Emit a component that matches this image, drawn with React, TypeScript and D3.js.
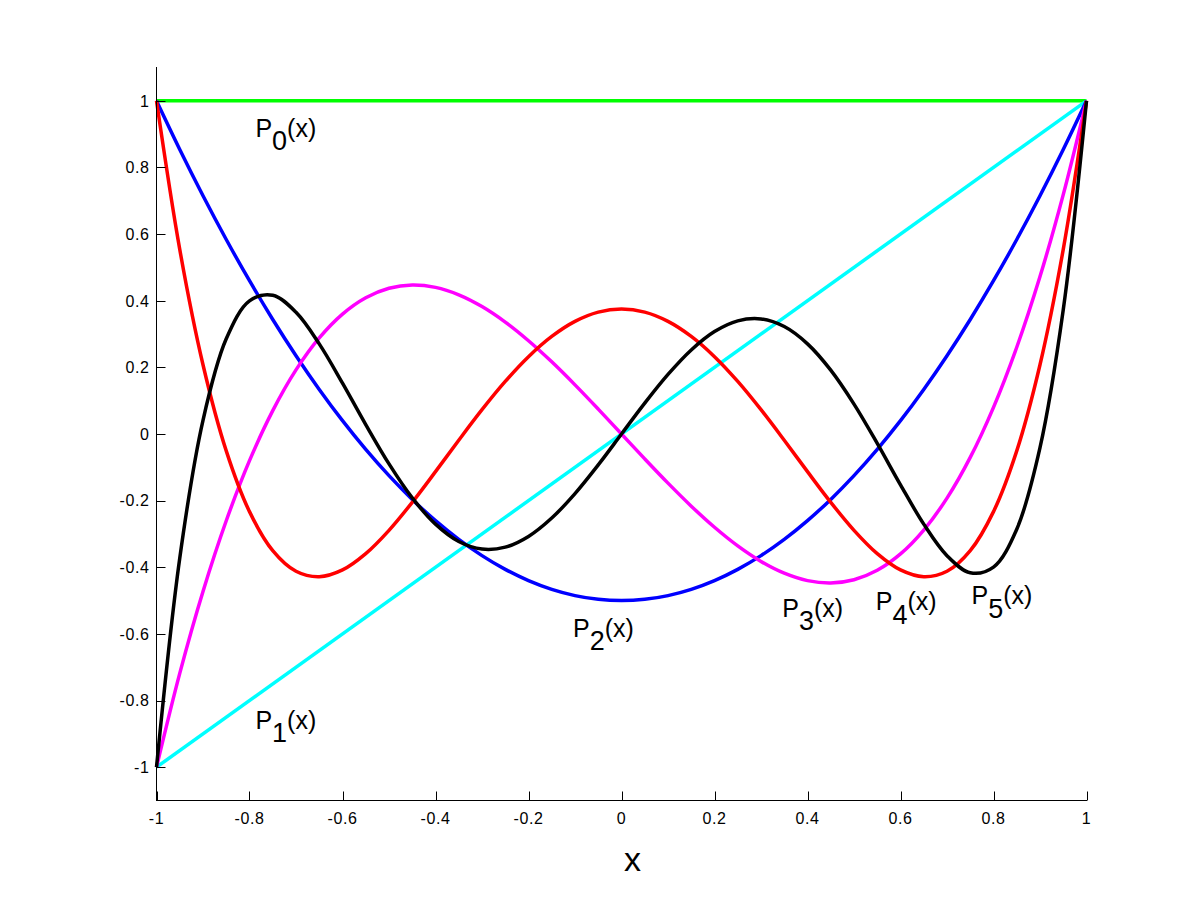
import React from "react";
import * as d3 from "d3";

const xs = [-1, -0.95, -0.9, -0.85, -0.8, -0.75, -0.7, -0.65, -0.6, -0.55, -0.5, -0.45, -0.4, -0.35, -0.3, -0.25, -0.2, -0.15, -0.1, -0.05, 0,
  0.05, 0.1, 0.15, 0.2, 0.25, 0.3, 0.35, 0.4, 0.45, 0.5, 0.55, 0.6, 0.65, 0.7, 0.75, 0.8, 0.85, 0.9, 0.95, 1];

const xEnds = [-1, 1];
const p0 = [1, 1];
const p1 = [-1, 1];

const p2 = [1, 0.85375, 0.715, 0.58375, 0.46, 0.34375, 0.235, 0.13375, 0.04, -0.04625, -0.125, -0.19625, -0.26, -0.31625, -0.365, -0.40625, -0.44, -0.46625, -0.485, -0.49625, -0.5,
  -0.49625, -0.485, -0.46625, -0.44, -0.40625, -0.365, -0.31625, -0.26, -0.19625, -0.125, -0.04625, 0.04, 0.13375, 0.235, 0.34375, 0.46, 0.58375, 0.715, 0.85375, 1];

const p3 = [-1, -0.7184, -0.4725, -0.2603, -0.08, 0.0703, 0.1925, 0.2884, 0.36, 0.4091, 0.4375, 0.4472, 0.44, 0.4178, 0.3825, 0.3359, 0.28, 0.2166, 0.1475, 0.0747, 0,
  -0.0747, -0.1475, -0.2166, -0.28, -0.3359, -0.3825, -0.4178, -0.44, -0.4472, -0.4375, -0.4091, -0.36, -0.2884, -0.1925, -0.0703, 0.08, 0.2603, 0.4725, 0.7184, 1];

const p4 = [1, 0.5541, 0.2079, -0.0506, -0.233, -0.3501, -0.4121, -0.4284, -0.408, -0.3591, -0.2891, -0.205, -0.113, -0.0187, 0.0729, 0.1577, 0.232, 0.2928, 0.3379, 0.3657, 0.375,
  0.3657, 0.3379, 0.2928, 0.232, 0.1577, 0.0729, -0.0187, -0.113, -0.205, -0.2891, -0.3591, -0.408, -0.4284, -0.4121, -0.3501, -0.233, -0.0506, 0.2079, 0.5541, 1];

const p5 = [-1, -0.3727, 0.0411, 0.2857, 0.3995, 0.4164, 0.3652, 0.2705, 0.1526, 0.0282, -0.0898, -0.1917, -0.2706, -0.3225, -0.3454, -0.3397, -0.3075, -0.2523, -0.1788, -0.0927, 0,
  0.0927, 0.1788, 0.2523, 0.3075, 0.3397, 0.3454, 0.3225, 0.2706, 0.1917, 0.0898, -0.0282, -0.1526, -0.2705, -0.3652, -0.4164, -0.3995, -0.2857, -0.0411, 0.3727, 1];

const xTicks = [-1, -0.8, -0.6, -0.4, -0.2, 0, 0.2, 0.4, 0.6, 0.8, 1];
const xTickLabels = ["-1", "-0.8", "-0.6", "-0.4", "-0.2", "0", "0.2", "0.4", "0.6", "0.8", "1"];
const yTicks = [-1, -0.8, -0.6, -0.4, -0.2, 0, 0.2, 0.4, 0.6, 0.8, 1];
const yTickLabels = ["-1", "-0.8", "-0.6", "-0.4", "-0.2", "0", "0.2", "0.4", "0.6", "0.8", "1"];

const seriesNames = ["0", "1", "2", "3", "4", "5"];
const seriesColors = ["#00ff00", "#00ffff", "#0000ff", "#ff00ff", "#ff0000", "#000000"];
// label anchor (data coordinates) for each polynomial label
const labelX = [-0.783, -0.783, -0.1, 0.35, 0.551, 0.757];
const labelY = [0.892, -0.884, -0.609, -0.549, -0.529, -0.511];

export default function App() {
  const x = d3.scaleLinear().domain([-1, 1]).range([156.5, 1086.5]);
  const y = d3.scaleLinear().domain([-1.1, 1.1]).range([800.5, 67.5]);
  const line = d3
    .line<[number, number]>()
    .x((d) => x(d[0]))
    .y((d) => y(d[1]))
    .curve(d3.curveCatmullRom.alpha(0.5));
  const straight = d3
    .line<[number, number]>()
    .x((d) => x(d[0]))
    .y((d) => y(d[1]));

  const series: { pts: [number, number][]; curved: boolean }[] = [
    { pts: xEnds.map((v, i) => [v, p0[i]]), curved: false },
    { pts: xEnds.map((v, i) => [v, p1[i]]), curved: false },
    { pts: xs.map((v, i) => [v, p2[i]]), curved: true },
    { pts: xs.map((v, i) => [v, p3[i]]), curved: true },
    { pts: xs.map((v, i) => [v, p4[i]]), curved: true },
    { pts: xs.map((v, i) => [v, p5[i]]), curved: true },
  ];

  const font = "'Liberation Sans', Arial, Helvetica, sans-serif";
  const tickLen = 9;

  return (
    <svg
      width={1200}
      height={900}
      style={{ position: "absolute", left: 0, top: 0, background: "#fff" }}
      fontFamily={font}
    >
      <rect x={0} y={0} width={1200} height={900} fill="#fff" />
      {series.map((s, i) => (
        <path
          key={i}
          d={(s.curved ? line(s.pts) : straight(s.pts)) || ""}
          fill="none"
          stroke={seriesColors[i]}
          strokeWidth={3.5}
          strokeLinejoin="round"
        />
      ))}
      {/* axes */}
      <line x1={156.5} x2={156.5} y1={67} y2={801} stroke="#000" strokeWidth={1} />
      <line x1={156} x2={1087} y1={800.5} y2={800.5} stroke="#000" strokeWidth={1} />
      {xTicks.map((t, i) => (
        <g key={"xt" + i}>
          <line x1={Math.round(x(t)) + 0.5} x2={Math.round(x(t)) + 0.5} y1={800.5} y2={800.5 - tickLen} stroke="#000" strokeWidth={1} />
          <text x={x(t)} y={824} fontSize={16} textAnchor="middle" letterSpacing={0.6} fill="#000">
            {xTickLabels[i]}
          </text>
        </g>
      ))}
      {yTicks.map((t, i) => (
        <g key={"yt" + i}>
          <line x1={156.5} x2={156.5 + tickLen} y1={Math.round(y(t)) + 0.5} y2={Math.round(y(t)) + 0.5} stroke="#000" strokeWidth={1} />
          <text x={149.5} y={y(t) + 5.8} fontSize={16} textAnchor="end" letterSpacing={0.6} fill="#000">
            {yTickLabels[i]}
          </text>
        </g>
      ))}
      {/* curve labels */}
      {seriesNames.map((n, i) => (
        <text key={"lb" + i} x={x(labelX[i]) - 2} y={y(labelY[i])} fontSize={25} fill="#000">
          <tspan>P</tspan>
          <tspan dy={13.5} fontSize={27}>{n}</tspan>
          <tspan dy={-13.5}>(x)</tspan>
        </text>
      ))}
      <text x={632.5} y={871} fontSize={34} textAnchor="middle" fill="#000">
        x
      </text>
    </svg>
  );
}
